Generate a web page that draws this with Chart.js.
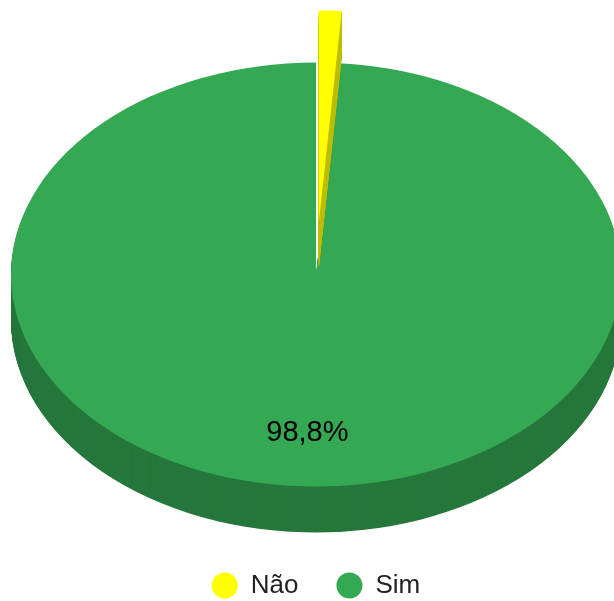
<!DOCTYPE html>
<html>
<head>
<meta charset="utf-8">
<script src="https://cdn.jsdelivr.net/npm/chart.js@4.4.1/dist/chart.umd.min.js"></script>
<style>
    body { margin: 0; background: #fff; }
    .chart-box { width: 614px; height: 601px; }
</style>
</head>
<body>
<div class="chart-box"><canvas id="pie-chart"></canvas></div>
<script>
/* ============================================= */
/*                     Data                      */
/* ============================================= */

const labels = ['Não', 'Sim'];
const values = [1.2, 98.8];

const topColors = ['#ffff00', '#34a853'];
const sideColors = ['#bdbd00', '#26773c'];
const explode = [75, 0];      // how far each slice is pulled out, px

const tilt = 0.695;           // vertical squash of the disc
const depth = 46;             // thickness of the pie, px
const labelRadius = 0.75;     // where the % text sits, share of the radius
const minLabelShare = 5;      // slices smaller than this get no % text

/* ============================================= */
/*                3D pie plugin                  */
/* ============================================= */

const pie3d = {
    id: 'pie3d',
    beforeDatasetsDraw(chart) {
        const ctx = chart.ctx;
        const arcs = chart.getDatasetMeta(0).data;
        // slices that are not pulled out first, the exploded one on top
        const order = arcs.map((a, i) => i).sort((a, b) => explode[a] - explode[b]);

        order.forEach(i => {
            const arc = arcs[i];
            const mid = (arc.startAngle + arc.endAngle) / 2;
            const dx = Math.cos(mid) * explode[i];
            const dy = Math.sin(mid) * explode[i];
            const fill = arc.options.backgroundColor;

            const drawAt = (shift, color) => {
                ctx.save();
                ctx.translate(arc.x, arc.y + shift);
                ctx.scale(1, tilt);
                ctx.translate(dx - arc.x, dy - arc.y);
                arc.options.backgroundColor = color;
                arc.draw(ctx);
                ctx.restore();
            };

            // side wall: stack of darker copies, then the lid
            for (let d = depth; d > 0; d--) {
                drawAt(d, sideColors[i]);
            }
            drawAt(0, fill);
            arc.options.backgroundColor = fill;
        });
        return false;
    },
    afterDraw(chart) {
        const ctx = chart.ctx;
        const arcs = chart.getDatasetMeta(0).data;
        const total = values.reduce((s, v) => s + v, 0);

        ctx.save();
        ctx.fillStyle = '#000';
        ctx.font = '29px "Liberation Sans", Arial, sans-serif';
        ctx.textAlign = 'center';
        ctx.textBaseline = 'middle';
        arcs.forEach((arc, i) => {
            const share = values[i] / total * 100;
            if (share < minLabelShare) return;
            const mid = (arc.startAngle + arc.endAngle) / 2;
            const r = arc.outerRadius * labelRadius;
            const x = arc.x + Math.cos(mid) * r;
            const y = arc.y + Math.sin(mid) * r * tilt;
            ctx.fillText(share.toFixed(1).replace('.', ',') + '%', x, y);
        });
        ctx.restore();
    }
};

/* ============================================= */
/*                    Chart                      */
/* ============================================= */

const pieCanvas = document.getElementById('pie-chart');

const pieData = {
    labels: labels,
    datasets: [{
        data: values,
        backgroundColor: topColors,
        borderWidth: 0,
        radius: 305
    }]
};

const pieOptions = {
    responsive: true,
    maintainAspectRatio: false,
    animation: false,
    layout: {
        padding: { left: 18, right: 0, top: 14.5, bottom: -7.5 }
    },
    plugins: {
        legend: {
            position: 'bottom',
            labels: {
                usePointStyle: true,
                pointStyle: 'circle',
                boxWidth: 26,
                boxHeight: 18.4,
                padding: 38,
                color: '#222',
                font: { family: '"Liberation Sans", Arial, sans-serif', size: 26 }
            }
        },
        tooltip: { enabled: false }
    }
};

let pieChart = new Chart(pieCanvas, {
    type: 'pie',
    data: pieData,
    options: pieOptions,
    plugins: [pie3d]
});
</script>
</body>
</html>
